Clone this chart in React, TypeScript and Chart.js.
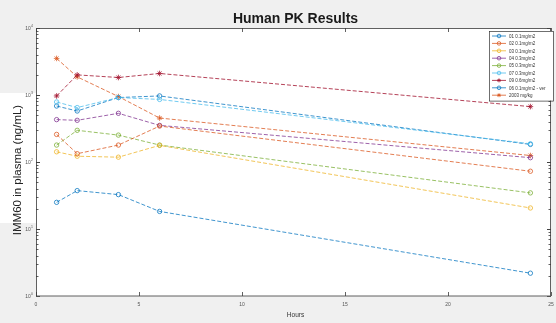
import React, { useEffect, useRef } from "react";
import { Chart, registerables } from "chart.js";

Chart.register(...registerables);

const hours = [1, 2, 4, 6, 24];

const labels = [
  "01 0.1mg/m2",
  "02 0.1mg/m2",
  "03 0.1mg/m2",
  "04 0.3mg/m2",
  "05 0.3mg/m2",
  "07 0.3mg/m2",
  "09 0.6mg/m2",
  "06 0.1mg/m2 - ver",
  "2003 mg/kg",
];

const s01 = [25, 37.4, 32.6, 18.3, 2.19];
const s02 = [258, 133, 179, 344, 72.8];
const s03 = [142, 122, 118, 177, 20.6];
const s04 = [429, 419, 533, 352, 116];
const s05 = [179, 297, 252, 179, 34.6];
const s06 = [787, 649, 916, 859, 187];
const s07 = [968, 1996, 1825, 2096, 671];
const s08 = [685, 577, 916, 968, 183];
const s09 = [3516, 1864, 948, 453, 125];

const seriesValues = [s01, s02, s03, s04, s05, s06, s07, s08, s09];

const colors = [
  "rgba(0,114,189,0.75)",
  "rgba(217,83,25,0.75)",
  "rgba(237,177,32,0.75)",
  "rgba(126,47,142,0.75)",
  "rgba(119,172,48,0.75)",
  "rgba(77,190,238,0.8)",
  "rgba(162,20,47,0.8)",
  "rgba(0,114,189,0.75)",
  "rgba(217,83,25,0.75)",
];
const markers = ["circle", "circle", "circle", "circle", "circle", "circle", "star", "circle", "star"];

const yTickValues = [1, 10, 100, 1000, 10000];
const yTickExps = ["0", "1", "2", "3", "4"];
const xTicks = [0, 5, 10, 15, 20, 25];

const decor = {
  id: "decor",
  beforeDraw(chart: any) {
    const { ctx, chartArea: a, width, height } = chart;
    ctx.save();
    ctx.fillStyle = "#f0f0f0";
    ctx.fillRect(0, 0, width, height);
    ctx.fillStyle = "#ffffff";
    ctx.fillRect(0, 93, a.left, 130);
    ctx.fillRect(a.left, a.top, a.right - a.left, a.bottom - a.top);
    ctx.restore();
  },
  afterDraw(chart: any) {
    const { ctx, chartArea: a } = chart;
    const xs = chart.scales.x;
    const ys = chart.scales.y;
    ctx.save();
    // box
    ctx.strokeStyle = "#3a3a3a";
    ctx.lineWidth = 0.8;
    ctx.strokeRect(a.left + 0.5, a.top + 0.5, a.right - a.left - 1, a.bottom - a.top - 0.5);
    // y ticks (inside, both sides)
    ctx.beginPath();
    for (let e = 0; e < 4; e++) {
      for (let m = 1; m <= 10; m++) {
        const v = m * Math.pow(10, e);
        const py = Math.round(ys.getPixelForValue(v)) + 0.5;
        const len = m === 1 || m === 10 ? 4 : 2.5;
        ctx.moveTo(a.left, py);
        ctx.lineTo(a.left + len, py);
        ctx.moveTo(a.right, py);
        ctx.lineTo(a.right - len, py);
      }
    }
    for (const t of xTicks) {
      const px = Math.round(xs.getPixelForValue(t)) + 0.5;
      ctx.moveTo(px, a.bottom);
      ctx.lineTo(px, a.bottom - 4);
      ctx.moveTo(px, a.top);
      ctx.lineTo(px, a.top + 4);
    }
    ctx.stroke();
    // tick labels
    ctx.fillStyle = "#555";
    ctx.textBaseline = "middle";
    ctx.textAlign = "center";
    ctx.font = "5px 'Liberation Sans', Arial, sans-serif";
    for (const t of xTicks) {
      ctx.fillText(String(t), xs.getPixelForValue(t), a.bottom + 8.5);
    }
    yTickValues.forEach((v, i) => {
      const py = ys.getPixelForValue(v);
      ctx.textAlign = "right";
      ctx.font = "3.5px 'Liberation Sans', Arial, sans-serif";
      ctx.fillText(yTickExps[i], a.left - 3, py - 2);
      const ew = ctx.measureText(yTickExps[i]).width;
      ctx.font = "5px 'Liberation Sans', Arial, sans-serif";
      ctx.fillText("10", a.left - 3 - ew - 0.3, py + 0.5);
    });
    // title
    ctx.fillStyle = "#1a1a1a";
    ctx.font = "bold 14px 'Liberation Sans', Arial, sans-serif";
    ctx.textAlign = "center";
    ctx.textBaseline = "middle";
    ctx.fillText("Human PK Results", (a.left + a.right) / 2 + 2, 19);
    // x title
    ctx.fillStyle = "#333";
    ctx.font = "6.5px 'Liberation Sans', Arial, sans-serif";
    ctx.fillText("Hours", (a.left + a.right) / 2 + 2, 315);
    // y title
    ctx.save();
    ctx.translate(18, 170);
    ctx.rotate(-Math.PI / 2);
    ctx.font = "11.5px 'Liberation Sans', Arial, sans-serif";
    ctx.fillStyle = "#222";
    ctx.fillText("IMM60 in plasma (ng/mL)", 0, 0);
    ctx.restore();
    // legend
    const lx = 489, ly = 31, lw = 64, rowH = 7.4;
    const n = chart.data.datasets.length;
    const lh = n * rowH + 3;
    ctx.fillStyle = "#fff";
    ctx.fillRect(lx, ly, lw, lh);
    ctx.strokeStyle = "#333";
    ctx.lineWidth = 0.7;
    ctx.strokeRect(lx + 0.5, ly + 0.5, lw, lh);
    ctx.textAlign = "left";
    ctx.font = "4.5px 'Liberation Sans', Arial, sans-serif";
    chart.data.datasets.forEach((ds: any, i: number) => {
      const yy = ly + 5 + i * rowH;
      ctx.strokeStyle = ds.borderColor;
      ctx.lineWidth = 1;
      ctx.beginPath();
      ctx.moveTo(lx + 3, yy);
      ctx.lineTo(lx + 17, yy);
      ctx.stroke();
      ctx.beginPath();
      if (ds.pointStyle === "star") {
        const r = 2;
        ctx.moveTo(lx + 10 - r, yy); ctx.lineTo(lx + 10 + r, yy);
        ctx.moveTo(lx + 10, yy - r); ctx.lineTo(lx + 10, yy + r);
        ctx.moveTo(lx + 10 - r * 0.7, yy - r * 0.7); ctx.lineTo(lx + 10 + r * 0.7, yy + r * 0.7);
        ctx.moveTo(lx + 10 - r * 0.7, yy + r * 0.7); ctx.lineTo(lx + 10 + r * 0.7, yy - r * 0.7);
      } else {
        ctx.arc(lx + 10, yy, 1.8, 0, Math.PI * 2);
      }
      ctx.stroke();
      ctx.fillStyle = "#333";
      ctx.fillText(ds.label, lx + 20, yy + 0.5);
    });
    ctx.restore();
  },
};

export default function App() {
  const ref = useRef<HTMLCanvasElement>(null);
  useEffect(() => {
    document.body.style.margin = "0";
    const datasets = seriesValues.map((vals, i) => ({
      label: labels[i],
      data: hours.map((h, j) => ({ x: h, y: vals[j] })),
      borderColor: colors[i],
      backgroundColor: "rgba(255,255,255,0)",
      pointBackgroundColor: "rgba(255,255,255,0)",
      pointBorderColor: colors[i],
      pointStyle: markers[i],
      pointRadius: markers[i] === "star" ? 2.8 : 2.2,
      pointBorderWidth: 1,
      borderWidth: 1,
      borderDash: [4, 2],
      tension: 0,
    }));
    const chart = new Chart(ref.current!, {
      type: "line",
      data: { datasets },
      plugins: [decor],
      options: {
        animation: false,
        responsive: false,
        devicePixelRatio: 1,
        layout: { padding: { top: 28, right: 2, left: 0, bottom: 0 } },
        plugins: { legend: { display: false }, tooltip: { enabled: false }, title: { display: false } },
        scales: {
          x: {
            type: "linear",
            min: 0,
            max: 25,
            afterFit(scale: any) { scale.height = 27; },
            grid: { display: false },
            border: { display: false },
            ticks: { display: false },
          },
          y: {
            type: "logarithmic",
            min: 1,
            max: 10000,
            afterFit(scale: any) { scale.width = 36; },
            grid: { display: false },
            border: { display: false },
            ticks: { display: false },
          },
        },
      },
    } as any);
    return () => chart.destroy();
  }, []);
  return (
    <div style={{ width: 556, height: 323, position: "absolute", left: 0, top: 0 }}>
      <canvas ref={ref} width={556} height={323} style={{ display: "block" }} />
    </div>
  );
}
